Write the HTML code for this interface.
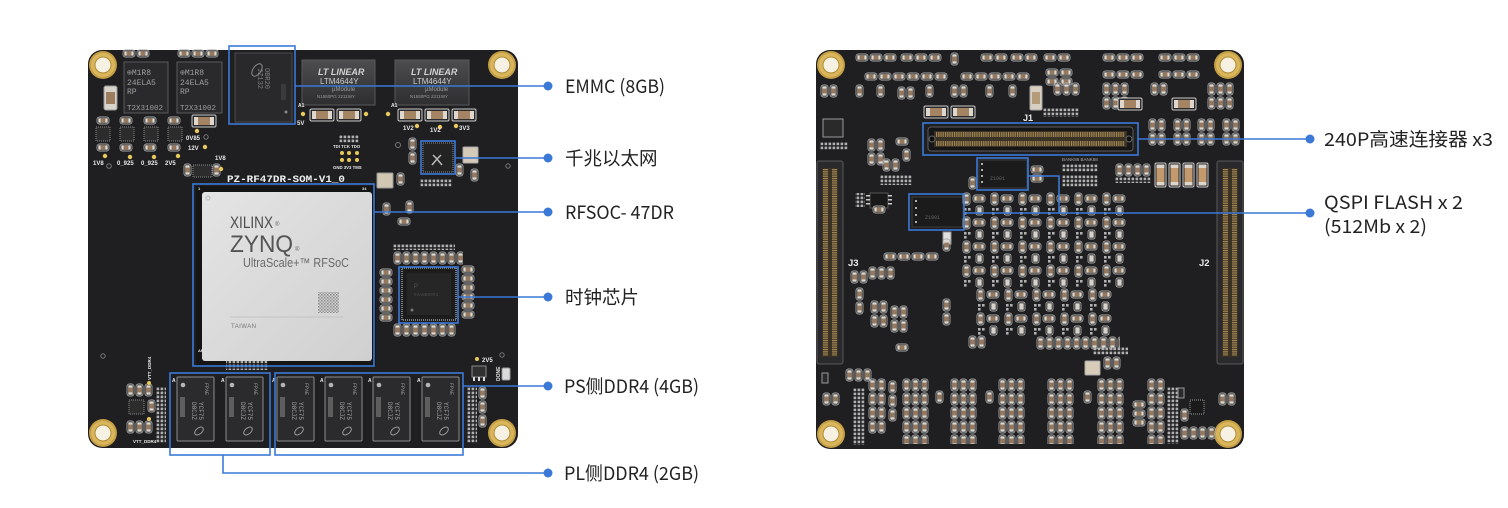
<!DOCTYPE html>
<html><head><meta charset="utf-8">
<style>
html,body{margin:0;padding:0;background:#fff;}
svg{display:block;}
.lbl{font-family:"Noto Sans CJK SC","Liberation Sans",sans-serif;font-size:18.5px;fill:#222;}
.silk{font-family:"Liberation Sans",sans-serif;fill:#e8e8e8;font-weight:bold;}
.mono{font-family:"Liberation Mono",monospace;}
</style></head>
<body>
<svg width="1508" height="508" viewBox="0 0 1508 508" xmlns="http://www.w3.org/2000/svg">
<defs>
  <pattern id="pv" width="9" height="14" patternUnits="userSpaceOnUse">
    <rect x="1" y="1" width="7" height="12" rx="2.5" fill="none" stroke="#a8a8a8" stroke-width="0.9"/>
    <rect x="2.3" y="2.3" width="4.4" height="9.4" fill="#dcd8d2"/>
    <rect x="2.3" y="4.6" width="4.4" height="4.8" fill="#95785d"/>
  </pattern>
  <pattern id="ph" width="14" height="9" patternUnits="userSpaceOnUse">
    <rect x="1" y="1" width="12" height="7" rx="2.5" fill="none" stroke="#a8a8a8" stroke-width="0.9"/>
    <rect x="2.3" y="2.3" width="9.4" height="4.4" fill="#dcd8d2"/>
    <rect x="4.6" y="2.3" width="4.8" height="4.4" fill="#95785d"/>
  </pattern>
  <pattern id="pd" width="4" height="4" patternUnits="userSpaceOnUse">
    <rect x="0.6" y="0.6" width="2.6" height="2.6" fill="#b0b0b0"/>
  </pattern>
  <pattern id="pmix" width="28" height="24" patternUnits="userSpaceOnUse">
    <rect x="1" y="1" width="7" height="12" rx="2.5" fill="none" stroke="#a8a8a8" stroke-width="0.9"/>
    <rect x="2.3" y="2.3" width="4.4" height="9.4" fill="#dcd8d2"/>
    <rect x="2.3" y="4.6" width="4.4" height="4.8" fill="#95785d"/>
    <rect x="11" y="3" width="12" height="7" rx="2.5" fill="none" stroke="#a8a8a8" stroke-width="0.9"/>
    <rect x="12.3" y="4.3" width="9.4" height="4.4" fill="#dcd8d2"/>
    <rect x="14.6" y="4.3" width="4.8" height="4.4" fill="#95785d"/>
    <rect x="14" y="14" width="7" height="9" rx="2" fill="none" stroke="#a8a8a8" stroke-width="0.9"/>
    <rect x="15.3" y="15.3" width="4.4" height="6.4" fill="#d6d1c9"/>
    <rect x="2" y="16" width="2.6" height="2.6" fill="#b0b0b0"/>
    <rect x="6" y="16" width="2.6" height="2.6" fill="#b0b0b0"/>
    <rect x="2" y="20" width="2.6" height="2.6" fill="#b0b0b0"/>
  </pattern>
  <pattern id="pjh" width="1.8" height="5" patternUnits="userSpaceOnUse">
    <rect x="0" y="0" width="1" height="5" fill="#a88a55"/>
  </pattern>
  <pattern id="pjv" width="5" height="1.8" patternUnits="userSpaceOnUse">
    <rect x="0" y="0" width="5" height="1" fill="#a88a55"/>
  </pattern>
  <pattern id="pqr" width="3" height="3" patternUnits="userSpaceOnUse">
    <rect x="0" y="0" width="1.5" height="1.5" fill="#888"/>
    <rect x="1.5" y="1.5" width="1.5" height="1.5" fill="#999"/>
  </pattern>
  <linearGradient id="lid" x1="0" y1="0" x2="1" y2="1">
    <stop offset="0" stop-color="#e4e4e4"/>
    <stop offset="1" stop-color="#d0d0d0"/>
  </linearGradient>
  <linearGradient id="ltm" x1="0" y1="0" x2="0" y2="1">
    <stop offset="0" stop-color="#4d4d50"/>
    <stop offset="1" stop-color="#2e2e31"/>
  </linearGradient>
  <g id="hole">
    <circle r="14" fill="#c49e45"/>
    <circle r="12" fill="#d9b65c"/>
    <circle r="8.5" fill="#b08b35"/>
    <circle r="7.5" fill="#f6f1e2"/>
  </g>
  <g id="cap">
    <rect x="0" y="0" width="24" height="12" rx="1.5" fill="#2a2a2a" stroke="#c8c8c8" stroke-width="1"/>
    <rect x="2" y="2" width="20" height="8" fill="#dcd7cf"/>
    <rect x="6" y="2" width="12" height="8" fill="#a58464"/>
  </g>
  <g id="tcap">
    <rect x="0" y="0" width="11" height="24" rx="1.5" fill="#2a2a2a" stroke="#c8c8c8" stroke-width="1"/>
    <rect x="1.5" y="1.5" width="8" height="21" fill="#ddd6cc"/>
    <rect x="1.5" y="5" width="8" height="14" fill="#c39a6d"/>
  </g>
  <g id="ddr">
    <rect x="0" y="0" width="37" height="64" rx="1" fill="#2b2b2d" stroke="#8e8e8e" stroke-width="1"/>
    <circle cx="6" cy="8" r="2.3" fill="#b5b5b5"/>
    <rect x="3" y="20" width="5" height="20" fill="#5e5e5e"/>
    <text class="mono" font-size="5" fill="#9a9a9a" transform="translate(28 6) rotate(90)">FPAE</text>
    <text class="mono" font-size="6" fill="#a5a5a5" transform="translate(22 25) rotate(90)">YCF75</text>
    <text class="mono" font-size="6" fill="#a5a5a5" transform="translate(15 25) rotate(90)">D8CJZ</text>
    <ellipse cx="22" cy="54" rx="5" ry="3" fill="none" stroke="#999" stroke-width="1" transform="rotate(-40 22 54)"/>
  </g>
</defs>

<!-- ================= LEFT BOARD ================= -->
<rect x="88" y="50" width="430" height="398" rx="14" fill="#1f1f21"/>
<use href="#hole" x="103" y="65"/>
<use href="#hole" x="502" y="65"/>
<use href="#hole" x="103" y="433"/>
<use href="#hole" x="502" y="433"/>

<rect transform="translate(122 49)" width="28" height="9" fill="url(#ph)"/>
<rect transform="translate(177 49)" width="42" height="9" fill="url(#ph)"/>
<g>
  <rect x="124" y="62" width="44" height="51" fill="#2a2a2c" stroke="#5a5a5c"/>
  <text class="mono" x="127" y="75" font-size="8" fill="#9d9d9d">⊕M1R8</text>
  <text class="mono" x="127" y="85" font-size="8" fill="#9d9d9d">24ELA5</text>
  <text class="mono" x="127" y="94" font-size="8" fill="#9d9d9d">RP</text>
  <text class="mono" x="127" y="110" font-size="7.5" fill="#9d9d9d">T2X31002</text>
  <rect x="177" y="62" width="45" height="51" fill="#2a2a2c" stroke="#5a5a5c"/>
  <text class="mono" x="180" y="75" font-size="8" fill="#9d9d9d">⊕M1R8</text>
  <text class="mono" x="180" y="85" font-size="8" fill="#9d9d9d">24ELA5</text>
  <text class="mono" x="180" y="94" font-size="8" fill="#9d9d9d">RP</text>
  <text class="mono" x="180" y="110" font-size="7.5" fill="#9d9d9d">T2X31002</text>
</g>
<rect x="104" y="86" width="13" height="24" rx="2" fill="#d8d3cb" stroke="#999"/>
<rect x="106" y="92" width="9" height="12" fill="#9c7d60"/>
<g>
  <rect transform="translate(96 116)" width="14" height="9" fill="url(#ph)"/>
  <rect transform="translate(119 116)" width="14" height="9" fill="url(#ph)"/>
  <rect transform="translate(143 116)" width="14" height="9" fill="url(#ph)"/>
  <rect transform="translate(167 116)" width="14" height="9" fill="url(#ph)"/>
  <rect x="96" y="127" width="14" height="14" fill="#2c2c2c" stroke="#888" stroke-dasharray="1 1"/>
  <rect x="120" y="127" width="14" height="14" fill="#2c2c2c" stroke="#888" stroke-dasharray="1 1"/>
  <rect x="144" y="127" width="14" height="14" fill="#2c2c2c" stroke="#888" stroke-dasharray="1 1"/>
  <rect x="168" y="127" width="14" height="14" fill="#2c2c2c" stroke="#888" stroke-dasharray="1 1"/>
  <rect transform="translate(96 143)" width="14" height="9" fill="url(#ph)"/>
  <rect transform="translate(119 143)" width="14" height="9" fill="url(#ph)"/>
  <rect transform="translate(143 143)" width="14" height="9" fill="url(#ph)"/>
  <rect transform="translate(167 143)" width="14" height="9" fill="url(#ph)"/>
  <circle cx="105" cy="156" r="2.2" fill="#e8c95c"/>
  <circle cx="130" cy="157" r="2.2" fill="#e8c95c"/>
  <circle cx="154" cy="157" r="2.2" fill="#e8c95c"/>
  <circle cx="178" cy="156" r="2.2" fill="#e8c95c"/>
  <circle cx="109" cy="166" r="2.3" fill="none" stroke="#777"/>
  <text class="silk" x="93" y="165" font-size="6">1V8</text>
  <text class="silk" x="117" y="165" font-size="6">0_925</text>
  <text class="silk" x="141" y="165" font-size="6">0_925</text>
  <text class="silk" x="165" y="165" font-size="6">2V5</text>
</g>
<use href="#cap" x="192" y="115"/>
<text class="silk" x="186" y="140" font-size="6">0V85</text>
<text class="silk" x="188" y="150" font-size="6">12V</text>
<circle cx="197" cy="131" r="2.2" fill="#e8c95c"/>
<circle cx="205" cy="147" r="2.2" fill="#e8c95c"/>
<circle cx="206" cy="137" r="2.2" fill="none" stroke="#777"/>

<rect x="235" y="53" width="57" height="69" fill="#29292b" stroke="#4a4a4c"/>
<ellipse cx="257" cy="70" rx="7" ry="4" fill="none" stroke="#8a8a8a" transform="rotate(-55 257 70)"/>
<text class="mono" font-size="7" fill="#7e7e7e" transform="translate(265 68) rotate(90)">OBR20</text>
<text class="mono" font-size="7" fill="#7e7e7e" transform="translate(258 68) rotate(90)">JZ132</text>
<rect x="281" y="84" width="5" height="16" fill="#3a3a3c"/>
<circle cx="286" cy="112" r="1.5" fill="#888"/>

<g>
  <rect x="302" y="60" width="73" height="45" fill="url(#ltm)" stroke="#58585a"/>
  <text x="318" y="75" font-family="Liberation Sans,sans-serif" font-size="9" font-weight="bold" font-style="italic" fill="#d2d2d2">LT LINEAR</text>
  <text x="320" y="84" font-family="Liberation Sans,sans-serif" font-size="8" fill="#cfcfcf">LTM4644Y</text>
  <text x="332" y="91" font-family="Liberation Sans,sans-serif" font-size="6" fill="#9a9a9a">µModule</text>
  <text x="317" y="98" font-family="Liberation Sans,sans-serif" font-size="4.5" fill="#9a9a9a">N1550PG  2211WY</text>
  <rect x="395" y="60" width="74" height="45" fill="url(#ltm)" stroke="#58585a"/>
  <text x="411" y="75" font-family="Liberation Sans,sans-serif" font-size="9" font-weight="bold" font-style="italic" fill="#d2d2d2">LT LINEAR</text>
  <text x="413" y="84" font-family="Liberation Sans,sans-serif" font-size="8" fill="#cfcfcf">LTM4644Y</text>
  <text x="425" y="91" font-family="Liberation Sans,sans-serif" font-size="6" fill="#9a9a9a">µModule</text>
  <text x="410" y="98" font-family="Liberation Sans,sans-serif" font-size="4.5" fill="#9a9a9a">N1550PG  2211WY</text>
</g>
<use href="#cap" x="310" y="109"/>
<use href="#cap" x="337" y="109"/>
<use href="#cap" x="398" y="109"/>
<use href="#cap" x="425" y="109"/>
<use href="#cap" x="452" y="109"/>
<circle cx="303" cy="114" r="2.2" fill="#e8c95c"/>
<circle cx="366" cy="114" r="2.2" fill="#e8c95c"/>
<circle cx="388" cy="114" r="2.2" fill="#e8c95c"/>
<circle cx="417" cy="126" r="2.2" fill="#e8c95c"/>
<circle cx="440" cy="127" r="2.2" fill="#e8c95c"/>
<circle cx="456" cy="126" r="2.2" fill="#e8c95c"/>
<text class="silk" x="297" y="125" font-size="6">5V</text>
<text class="silk" x="403" y="130" font-size="6">1V2</text>
<text class="silk" x="430" y="132" font-size="6">1V2</text>
<text class="silk" x="459" y="130" font-size="6">3V3</text>
<text class="silk" x="298" y="107" font-size="5">A1</text>
<text class="silk" x="391" y="107" font-size="5">A1</text>

<rect transform="translate(183 163)" width="9" height="14" fill="url(#pv)"/>
<rect x="193" y="165" width="19" height="12" fill="#2c2c2c" stroke="#888" stroke-dasharray="1 1"/>
<rect transform="translate(212 163)" width="9" height="14" fill="url(#pv)"/>
<text class="silk" x="215" y="160" font-size="6">1V8</text>
<circle cx="221" cy="169" r="2.2" fill="#e8c95c"/>

<rect transform="translate(339 135)" width="20" height="8" fill="url(#pd)"/>
<text class="silk" x="333" y="148" font-size="4.3">TDI TCK TDO</text>
<circle cx="342" cy="153" r="2" fill="#e8c95c"/><circle cx="349" cy="153" r="2" fill="#e8c95c"/><circle cx="357" cy="153" r="2" fill="#e8c95c"/>
<circle cx="342" cy="160" r="2" fill="#e8c95c"/><circle cx="349" cy="160" r="2" fill="#e8c95c"/><circle cx="357" cy="160" r="2" fill="#e8c95c"/>
<text class="silk" x="333" y="169" font-size="4.3">GND 3V3 TMS</text>

<rect transform="translate(408 137)" width="9" height="28" fill="url(#pv)"/>
<rect x="423" y="143" width="30" height="29" fill="#232323" stroke="#8a8a8a" stroke-dasharray="1 1"/>
<path d="M432 165 l5 -6 l5 6 M433 155 l4 4 l4 -4" stroke="#bbb" stroke-width="1.5" fill="none"/>
<rect x="463" y="147" width="15" height="16" rx="1" fill="#d5cab8" stroke="#aaa"/>
<rect transform="translate(455 163)" width="9" height="14" fill="url(#pv)"/>
<rect transform="translate(470 168)" width="9" height="14" fill="url(#pv)"/>
<rect transform="translate(420 179)" width="32" height="8" fill="url(#pd)"/>
<circle cx="398" cy="145" r="2.5" fill="none" stroke="#777"/>
<circle cx="508" cy="166" r="2.2" fill="none" stroke="#777"/>

<rect x="377" y="173" width="16" height="15" rx="1" fill="#d1c6b2" stroke="#999"/>
<rect transform="translate(396 172)" width="9" height="14" fill="url(#pv)"/>
<rect transform="translate(382 202)" width="9" height="14" fill="url(#pv)"/>
<rect transform="translate(405 200)" width="9" height="14" fill="url(#pv)"/>
<rect transform="translate(397 217)" width="14" height="9" fill="url(#ph)"/>

<rect transform="translate(393 244)" width="62" height="6" fill="url(#pd)"/>
<rect transform="translate(393 251)" width="70" height="14" fill="url(#pv)"/>
<rect transform="translate(379 268)" width="14" height="54" fill="url(#ph)"/>
<rect transform="translate(461 265)" width="14" height="54" fill="url(#ph)"/>
<rect transform="translate(393 323)" width="63" height="14" fill="url(#pv)"/>
<rect x="402" y="268" width="54" height="52" fill="#1c1c1c" stroke="#9a9a9a" stroke-width="1.5" stroke-dasharray="1 1"/>
<rect x="407" y="273" width="44" height="42" fill="#262626"/>
<text x="414" y="288" font-family="Liberation Sans,sans-serif" font-size="6" fill="#555">P</text>
<text x="414" y="296" font-family="Liberation Mono,monospace" font-size="4.5" fill="#4a4a4a">EAABB0061</text>
<circle cx="412" cy="310" r="1.5" fill="#777"/>

<rect x="196" y="186" width="180" height="180" fill="#151515"/>
<rect x="202" y="192" width="170" height="169" rx="3" fill="url(#lid)"/>
<circle cx="208" cy="198" r="2" fill="none" stroke="#bbb"/>
<text x="230" y="228" font-family="Liberation Sans,sans-serif" font-size="16.5" fill="#4d4d4d" textLength="43" lengthAdjust="spacingAndGlyphs">XILINX</text>
<text x="275" y="226" font-family="Liberation Sans,sans-serif" font-size="6" fill="#666">®</text>
<text x="230" y="252" font-family="Liberation Sans,sans-serif" font-size="24" fill="#555" textLength="63" lengthAdjust="spacingAndGlyphs">ZYNQ</text>
<text x="295" y="251" font-family="Liberation Sans,sans-serif" font-size="6" fill="#666">®</text>
<text x="243" y="267" font-family="Liberation Sans,sans-serif" font-size="12.5" fill="#6a6a6a" textLength="106" lengthAdjust="spacingAndGlyphs">UltraScale+™ RFSoC</text>
<rect x="318" y="292" width="21" height="21" fill="url(#pqr)"/>
<line x1="230" y1="317" x2="343" y2="317" stroke="#bdbdbd" stroke-width="0.8"/>
<text x="231" y="328" font-family="Liberation Sans,sans-serif" font-size="6" fill="#777" textLength="25">TAIWAN</text>
<text class="silk" x="198" y="190" font-size="4">1</text>
<text class="silk" x="362" y="190" font-size="4">34</text>
<text class="silk" x="198" y="352" font-size="4">AP</text>

<text x="227" y="182" font-family="Liberation Mono,monospace" font-weight="bold" font-size="10" fill="#f0f0f0" textLength="118" lengthAdjust="spacingAndGlyphs">PZ-RF47DR-SOM-V1_0</text>
<rect x="226" y="361" width="42" height="9" fill="url(#pd)"/>

<use href="#ddr" x="177" y="377"/>
<use href="#ddr" x="226" y="377"/>
<use href="#ddr" x="277" y="377"/>
<use href="#ddr" x="325" y="377"/>
<use href="#ddr" x="373" y="377"/>
<use href="#ddr" x="422" y="377"/>
<text class="silk" x="172" y="382" font-size="5">A</text>
<text class="silk" x="221" y="382" font-size="5">A</text>
<text class="silk" x="272" y="382" font-size="5">A</text>
<text class="silk" x="320" y="382" font-size="5">A</text>
<text class="silk" x="368" y="382" font-size="5">A</text>
<text class="silk" x="417" y="382" font-size="5">A</text>

<rect transform="translate(126 383)" width="27" height="14" fill="url(#pv)"/>
<rect x="129" y="400" width="15" height="14" fill="#2c2c2c" stroke="#888" stroke-dasharray="1 1"/>
<rect transform="translate(147 399)" width="9" height="14" fill="url(#pv)"/>
<rect transform="translate(126 420)" width="27" height="14" fill="url(#pv)"/>
<rect transform="translate(156 387)" width="10" height="56" fill="url(#pd)"/>
<circle cx="149" cy="383" r="2" fill="#e8c95c"/>
<circle cx="149" cy="419" r="2" fill="#e8c95c"/>
<text class="silk" font-size="4.5" transform="translate(151 380) rotate(-90)">VTT_DDR4</text>
<text class="silk" x="133" y="443" font-size="4.5">VTT_DDR4</text>
<circle cx="103" cy="356" r="2.2" fill="none" stroke="#777"/>

<text class="silk" x="482" y="362" font-size="6">2V5</text>
<circle cx="477" cy="359" r="2" fill="#e8c95c"/>
<rect x="472" y="366" width="14" height="11" fill="#303030" stroke="#888"/>
<rect x="473" y="377" width="2" height="4" fill="#ddd"/><rect x="478" y="377" width="2" height="4" fill="#ddd"/><rect x="483" y="377" width="2" height="4" fill="#ddd"/>
<rect transform="translate(467 387)" width="10" height="56" fill="url(#pd)"/>
<rect transform="translate(478 386)" width="9" height="42" fill="url(#pv)"/>
<rect x="502" y="368" width="8" height="12" rx="1.5" fill="#dcdcdc" stroke="#999"/>
<text class="silk" font-size="5" transform="translate(500 381) rotate(-90)">DONE</text>
<circle cx="502" cy="355" r="2.2" fill="none" stroke="#777"/>

<!-- ================= RIGHT BOARD ================= -->
<rect x="816" y="50" width="428" height="399" rx="14" fill="#1f1f21"/>
<use href="#hole" x="831" y="65"/>
<use href="#hole" x="1228" y="65"/>
<use href="#hole" x="831" y="434"/>
<use href="#hole" x="1228" y="434"/>

<rect transform="translate(855 53)" width="42" height="9" fill="url(#ph)"/>
<rect transform="translate(900 53)" width="42" height="9" fill="url(#ph)"/>
<rect transform="translate(950 52)" width="9" height="14" fill="url(#pv)"/>
<rect transform="translate(980 53)" width="28" height="9" fill="url(#ph)"/>
<rect transform="translate(1010 53)" width="28" height="9" fill="url(#ph)"/>
<rect transform="translate(1043 53)" width="28" height="9" fill="url(#ph)"/>
<rect transform="translate(1102 53)" width="42" height="9" fill="url(#ph)"/>
<rect transform="translate(1158 53)" width="42" height="9" fill="url(#ph)"/>
<rect transform="translate(864 72)" width="84" height="9" fill="url(#ph)"/>
<rect transform="translate(960 72)" width="70" height="9" fill="url(#ph)"/>
<rect transform="translate(1045 68)" width="28" height="18" fill="url(#ph)"/>
<rect transform="translate(1102 70)" width="42" height="9" fill="url(#ph)"/>
<rect transform="translate(1158 70)" width="42" height="9" fill="url(#ph)"/>
<rect transform="translate(855 84)" width="9" height="14" fill="url(#pv)"/>
<rect transform="translate(876 84)" width="9" height="14" fill="url(#pv)"/>
<rect transform="translate(897 86)" width="18" height="14" fill="url(#pv)"/>
<rect transform="translate(925 84)" width="9" height="14" fill="url(#pv)"/>
<rect transform="translate(950 84)" width="18" height="14" fill="url(#pv)"/>
<rect transform="translate(985 84)" width="9" height="14" fill="url(#pv)"/>
<rect transform="translate(1008 84)" width="9" height="14" fill="url(#pv)"/>
<rect transform="translate(1053 82)" width="27" height="14" fill="url(#pv)"/>
<rect transform="translate(1102 82)" width="27" height="28" fill="url(#pv)"/>
<rect transform="translate(1150 82)" width="18" height="14" fill="url(#pv)"/>
<rect transform="translate(1207 82)" width="27" height="28" fill="url(#pv)"/>
<use href="#cap" x="924" y="106"/>
<use href="#cap" x="951" y="106"/>
<use href="#cap" x="1118" y="98"/>
<use href="#cap" x="1172" y="98"/>
<rect x="1030" y="86" width="12" height="24" rx="1.5" fill="#d8d0c0" stroke="#aaa"/>
<rect x="1032" y="92" width="8" height="12" fill="#b59b7a"/>
<rect transform="translate(1043 108)" width="36" height="9" fill="url(#pd)"/>
<rect transform="translate(820 84)" width="18" height="14" fill="url(#pv)"/>
<rect x="823" y="119" width="20" height="18" fill="#2a2a2a" stroke="#999"/>
<rect transform="translate(820 142)" width="28" height="8" fill="url(#pd)"/>
<rect transform="translate(1148 118)" width="18" height="28" fill="url(#pv)"/>
<rect transform="translate(1173 118)" width="18" height="28" fill="url(#pv)"/>
<rect transform="translate(1197 118)" width="18" height="28" fill="url(#pv)"/>
<rect transform="translate(1222 118)" width="18" height="28" fill="url(#pv)"/>

<rect x="928" y="127" width="205" height="24" rx="3" fill="#161616" stroke="#5c5c5c"/>
<rect x="934" y="131" width="193" height="16" fill="#3a3225"/>
<rect transform="translate(936 132)" width="189" height="5" fill="url(#pjh)"/>
<rect transform="translate(936 141)" width="189" height="5" fill="url(#pjh)"/>
<circle cx="932" cy="139" r="3" fill="#0e0e0e" stroke="#666"/>
<circle cx="1129" cy="139" r="3" fill="#0e0e0e" stroke="#666"/>
<text class="silk" x="1023" y="121" font-size="9">J1</text>

<rect x="817" y="161" width="26" height="203" rx="2" fill="#2a2a2c" stroke="#5a5a5c"/>
<rect x="822" y="168" width="16" height="189" fill="#3a3225"/>
<rect transform="translate(823 169)" width="5" height="187" fill="url(#pjv)"/>
<rect transform="translate(832 169)" width="5" height="187" fill="url(#pjv)"/>
<rect x="1217" y="161" width="26" height="203" rx="2" fill="#2a2a2c" stroke="#5a5a5c"/>
<rect x="1222" y="168" width="16" height="189" fill="#3a3225"/>
<rect transform="translate(1223 169)" width="5" height="187" fill="url(#pjv)"/>
<rect transform="translate(1232 169)" width="5" height="187" fill="url(#pjv)"/>
<text class="silk" x="848" y="266" font-size="9.5">J3</text>
<text class="silk" x="1199" y="266" font-size="9.5">J2</text>

<rect transform="translate(867 138)" width="18" height="28" fill="url(#pv)"/>
<rect transform="translate(895 137)" width="14" height="9" fill="url(#ph)"/>
<rect transform="translate(902 148)" width="9" height="14" fill="url(#pv)"/>
<rect transform="translate(882 158)" width="18" height="14" fill="url(#pv)"/>
<rect transform="translate(880 175)" width="32" height="10" fill="url(#pd)"/>
<rect x="855" y="193" width="10" height="14" fill="url(#pd)"/>
<rect x="870" y="193" width="18" height="15" fill="#191919" stroke="#555"/>
<rect x="866" y="195" width="4" height="1.5" fill="#ccc"/><rect x="866" y="199" width="4" height="1.5" fill="#ccc"/><rect x="866" y="203" width="4" height="1.5" fill="#ccc"/>
<rect x="888" y="195" width="4" height="1.5" fill="#ccc"/><rect x="888" y="199" width="4" height="1.5" fill="#ccc"/><rect x="888" y="203" width="4" height="1.5" fill="#ccc"/>

<rect x="979" y="160" width="48" height="28" fill="#1b1b1b" stroke="#3e3e3e"/>
<circle cx="982" cy="164" r="1" fill="#ddd"/><circle cx="982" cy="170" r="1" fill="#ddd"/><circle cx="982" cy="176" r="1" fill="#ddd"/><circle cx="982" cy="182" r="1" fill="#ddd"/>
<text class="mono" font-size="5" fill="#666" transform="translate(990 180)">Z1001</text>
<rect x="912" y="197" width="51" height="30" fill="#1b1b1b" stroke="#3e3e3e"/>
<circle cx="916" cy="201" r="1" fill="#ddd"/><circle cx="916" cy="208" r="1" fill="#ddd"/><circle cx="916" cy="215" r="1" fill="#ddd"/><circle cx="916" cy="222" r="1" fill="#ddd"/>
<text class="mono" font-size="5" fill="#666" transform="translate(925 219)">Z1001</text>
<rect transform="translate(1030 165)" width="14" height="18" fill="url(#ph)"/>
<rect transform="translate(968 176)" width="9" height="14" fill="url(#pv)"/>
<rect x="943" y="232" width="8" height="12" fill="#e0e0e0" stroke="#999"/>

<text x="1062" y="161" font-family="Liberation Sans,sans-serif" font-size="4.5" fill="#aaa">BANK88 BANK88</text>
<rect transform="translate(1062 164)" width="36" height="8" fill="url(#pd)"/>
<rect transform="translate(1062 175)" width="36" height="12" fill="url(#pd)"/>
<rect transform="translate(1115 163)" width="36" height="14" fill="url(#pv)"/>
<rect transform="translate(1115 177)" width="36" height="6" fill="url(#pd)"/>
<use href="#tcap" x="1155" y="163"/>
<use href="#tcap" x="1169" y="163"/>
<use href="#tcap" x="1183" y="163"/>
<use href="#tcap" x="1197" y="163"/>

<rect transform="translate(962 192)" width="168" height="96" fill="url(#pmix)"/>
<rect transform="translate(976 288)" width="140" height="48" fill="url(#pmix)"/>
<rect transform="translate(1036 336)" width="84" height="14" fill="url(#pv)"/>
<rect transform="translate(968 335)" width="18" height="14" fill="url(#pv)"/>

<rect transform="translate(883 252)" width="56" height="9" fill="url(#ph)"/>
<rect transform="translate(850 270)" width="18" height="14" fill="url(#pv)"/>
<rect transform="translate(868 266)" width="27" height="14" fill="url(#pv)"/>
<rect transform="translate(855 287)" width="9" height="28" fill="url(#pv)"/>
<rect transform="translate(870 300)" width="18" height="28" fill="url(#pv)"/>
<rect transform="translate(890 305)" width="18" height="28" fill="url(#pv)"/>
<rect transform="translate(895 343)" width="14" height="9" fill="url(#ph)"/>
<rect transform="translate(942 238)" width="9" height="14" fill="url(#pv)"/>
<rect transform="translate(942 298)" width="9" height="28" fill="url(#pv)"/>
<rect transform="translate(872 205)" width="14" height="9" fill="url(#ph)"/>

<rect transform="translate(1093 347)" width="35" height="8" fill="url(#pd)"/>
<rect x="1085" y="361" width="15" height="14" rx="1" fill="#d8cdb8" stroke="#aaa"/>
<rect transform="translate(1103 356)" width="18" height="14" fill="url(#pv)"/>

<rect transform="translate(845 368)" width="27" height="14" fill="url(#pv)"/>
<rect transform="translate(853 388)" width="12" height="57" fill="url(#pd)"/>
<rect transform="translate(868 378)" width="18" height="56" fill="url(#pv)"/>
<rect transform="translate(888 380)" width="9" height="42" fill="url(#pv)"/>
<rect transform="translate(902 378)" width="27" height="66" fill="url(#pv)"/>
<rect transform="translate(935 390)" width="9" height="14" fill="url(#pv)"/>
<rect transform="translate(950 378)" width="27" height="66" fill="url(#pv)"/>
<rect transform="translate(985 390)" width="9" height="14" fill="url(#pv)"/>
<rect transform="translate(998 378)" width="27" height="66" fill="url(#pv)"/>
<rect transform="translate(1047 378)" width="27" height="66" fill="url(#pv)"/>
<rect transform="translate(1083 390)" width="9" height="14" fill="url(#pv)"/>
<rect transform="translate(1097 378)" width="27" height="66" fill="url(#pv)"/>
<rect transform="translate(1132 400)" width="14" height="27" fill="url(#ph)"/>
<rect transform="translate(1147 378)" width="18" height="66" fill="url(#pv)"/>
<rect transform="translate(1167 387)" width="12" height="57" fill="url(#pd)"/>
<rect transform="translate(1180 408)" width="9" height="14" fill="url(#pv)"/>
<rect x="1190" y="400" width="14" height="14" fill="#1a1a1a" stroke="#999" stroke-dasharray="1 1"/>
<rect transform="translate(1180 426)" width="36" height="14" fill="url(#pv)"/>
<rect transform="translate(1218 392)" width="18" height="14" fill="url(#pv)"/>
<rect transform="translate(822 392)" width="18" height="14" fill="url(#pv)"/>
<rect x="822" y="373" width="6" height="10" fill="#2a2a2a" stroke="#999"/>
<rect x="1178" y="388" width="6" height="10" fill="#2a2a2a" stroke="#999"/>

<!-- ================= CALLOUTS ================= -->
<g stroke="#3b79d7" stroke-width="1.6" fill="none">
  <rect x="229" y="46" width="66" height="78"/>
  <rect x="421" y="141" width="34" height="33"/>
  <rect x="193" y="184" width="181" height="182"/>
  <rect x="399" y="267" width="59" height="56"/>
  <rect x="275" y="373" width="188" height="82"/>
  <rect x="170" y="373" width="100" height="82"/>
  <line x1="295" y1="86" x2="548" y2="86"/>
  <line x1="455" y1="158" x2="548" y2="158"/>
  <line x1="374" y1="212" x2="548" y2="212"/>
  <line x1="458" y1="297" x2="548" y2="297"/>
  <line x1="463" y1="386" x2="548" y2="386"/>
  <polyline points="223,455 223,473 548,473"/>
  <rect x="923" y="123" width="215" height="32"/>
  <rect x="977" y="158" width="51" height="32"/>
  <rect x="909" y="194" width="55" height="36"/>
  <line x1="1138" y1="139" x2="1310" y2="139"/>
  <polyline points="1028,176 1059,176 1059,213"/>
  <line x1="964" y1="213" x2="1310" y2="213"/>
</g>
<g fill="#3b79d7">
  <circle cx="548" cy="86" r="4.5"/>
  <circle cx="548" cy="158" r="4.5"/>
  <circle cx="548" cy="212" r="4.5"/>
  <circle cx="548" cy="297" r="4.5"/>
  <circle cx="548" cy="386" r="4.5"/>
  <circle cx="548" cy="473" r="4.5"/>
  <circle cx="1310" cy="139" r="4.5"/>
  <circle cx="1310" cy="213" r="4.5"/>
</g>

<text class="lbl" x="565" y="93" textLength="100" lengthAdjust="spacingAndGlyphs">EMMC (8GB)</text>
<text class="lbl" x="565" y="165">千兆以太网</text>
<text class="lbl" x="565" y="219" textLength="109" lengthAdjust="spacingAndGlyphs">RFSOC- 47DR</text>
<text class="lbl" x="565" y="304">时钟芯片</text>
<text class="lbl" x="564" y="393" textLength="135" lengthAdjust="spacingAndGlyphs">PS侧DDR4 (4GB)</text>
<text class="lbl" x="564" y="480" textLength="135" lengthAdjust="spacingAndGlyphs">PL侧DDR4 (2GB)</text>
<text class="lbl" x="1324" y="146" textLength="169" lengthAdjust="spacingAndGlyphs">240P高速连接器 x3</text>
<text class="lbl" x="1324" y="209" textLength="139" lengthAdjust="spacingAndGlyphs">QSPI FLASH x 2</text>
<text class="lbl" x="1324" y="233" textLength="103" lengthAdjust="spacingAndGlyphs">(512Mb x 2)</text>
</svg>
</body></html>
